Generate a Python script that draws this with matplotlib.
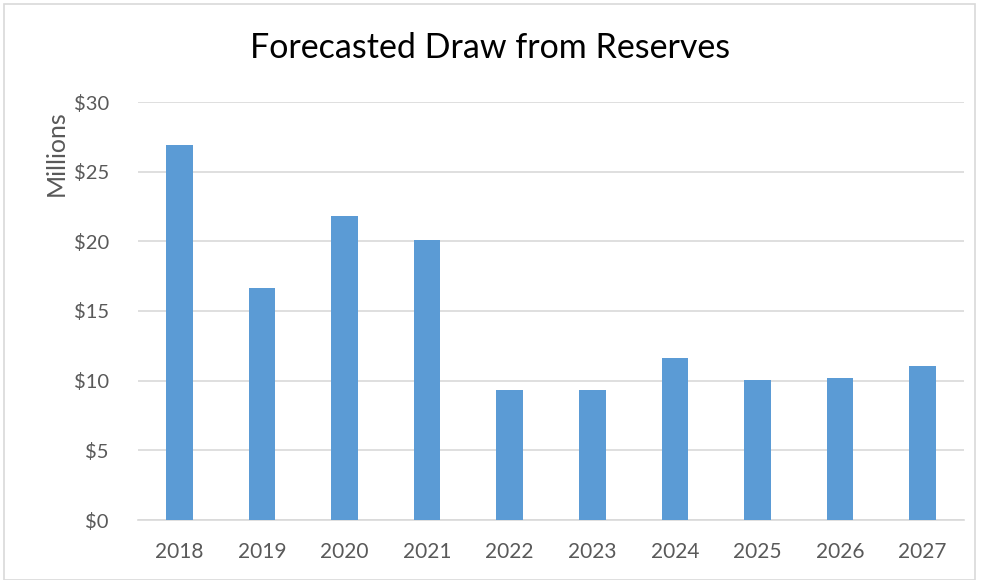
import numpy as np
import matplotlib.pyplot as plt
from matplotlib.ticker import FuncFormatter
from matplotlib.patches import Rectangle

years = ['2018', '2019', '2020', '2021', '2022', '2023', '2024', '2025', '2026', '2027']
draw = [26.9, 16.65, 21.85, 20.1, 9.35, 9.35, 11.65, 10.05, 10.2, 11.05]

plt.rcParams['font.family'] = ['Lato', 'DejaVu Sans']

fig = plt.figure(figsize=(9.81, 5.8), dpi=100)
ax = fig.add_axes([138 / 981, 1 - 520 / 580, (964 - 138) / 981, (520 - 102) / 580])

# thin frame round the whole chart
fig.patches.append(Rectangle((0.004, 0.0), 0.99, 0.993, transform=fig.transFigure,
                             fill=False, edgecolor='#d9d9d9', linewidth=1.2))

index = np.arange(len(years))
ax.bar(index, draw, 0.32, color='#5b9bd5', zorder=3)

ax.set_xlim(-0.5, len(years) - 0.5)
ax.set_ylim(0, 30)
ax.set_yticks(np.arange(0, 31, 5))
ax.yaxis.set_major_formatter(FuncFormatter(lambda v, p: '$%d' % v))
ax.set_xticks(index)
ax.set_xticklabels(years)

ax.grid(axis='y', color='#d9d9d9', linewidth=1.2, zorder=0)
for s in ['top', 'right', 'left']:
    ax.spines[s].set_visible(False)
ax.spines['bottom'].set_color('#d9d9d9')
ax.spines['bottom'].set_linewidth(1.2)
ax.tick_params(length=0, labelsize=15, colors='#595959')
ax.tick_params(axis='x', pad=16)
ax.tick_params(axis='y', labelsize=14.5, pad=21)

# axis title sits at the top of the value axis, like the original
fig.text(56 / 981, 1 - 153 / 580, 'Millions', rotation=90, ha='center', va='center',
         fontsize=18, color='#595959')
fig.text(0.5, 1 - 48 / 580, 'Forecasted Draw from Reserves', ha='center', va='center',
         fontsize=24.5, color='black')

fig.savefig('out.png', dpi=100)
